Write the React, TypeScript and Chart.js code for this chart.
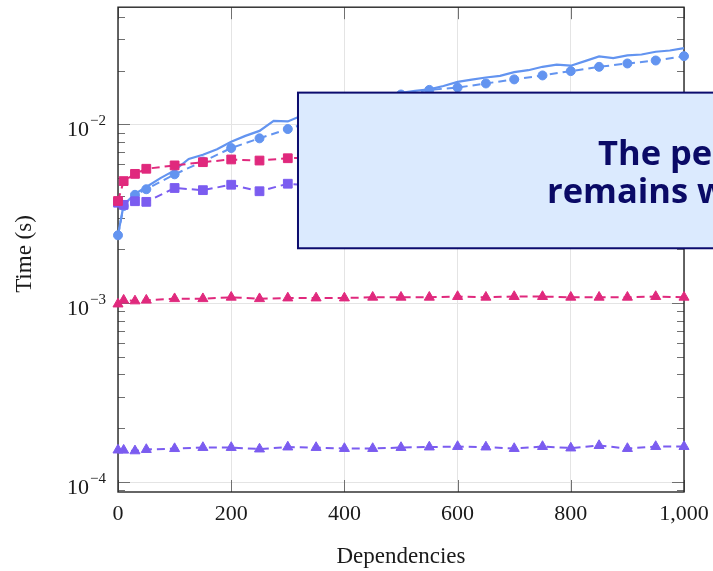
import React, { useEffect, useRef } from 'react';
import { Chart, registerables } from 'chart.js';

Chart.register(...registerables);

// ---------- data ----------
const X_DASHED = [0, 10, 30, 50, 100, 150, 200, 250, 300, 350, 400, 450, 500, 550, 600, 650, 700, 750, 800, 850, 900, 950, 1000];
const X_SOLID = [0, 10, 30, 50, 75, 100, 125, 150, 175, 200, 225, 250, 275, 300, 325, 350, 375, 400, 425, 450, 475, 500, 525, 550, 575, 600, 625, 650, 675, 700, 725, 750, 775, 800, 825, 850, 875, 900, 925, 950, 975, 1000];

const BLUE_SOLID = [0.00241, 0.00355, 0.00409, 0.00447, 0.00501, 0.00553, 0.00641, 0.00677, 0.00726, 0.00800, 0.00863, 0.00920, 0.01046, 0.01039, 0.01122, 0.0117, 0.0123, 0.0128, 0.0134, 0.0139, 0.0146, 0.0150, 0.0154, 0.0157, 0.0164, 0.0173, 0.0178, 0.0183, 0.0187, 0.0196, 0.0201, 0.0210, 0.0216, 0.0213, 0.0226, 0.0240, 0.0235, 0.0243, 0.0246, 0.0255, 0.0259, 0.0267];
const BLUE_CIRCLES = [0.00240, 0.00350, 0.00404, 0.00434, 0.00526, 0.00620, 0.00738, 0.00836, 0.00942, 0.0106, 0.0118, 0.0131, 0.0147, 0.01560, 0.01607, 0.01695, 0.01786, 0.01879, 0.01987, 0.02099, 0.02192, 0.02277, 0.02409];
const MAGENTA_SQUARES = [0.00373, 0.00482, 0.00529, 0.00565, 0.00590, 0.00615, 0.00637, 0.00628, 0.00647, 0.00652, 0.00660, 0.00655, 0.00668, 0.00672, 0.00665, 0.00680, 0.00684, 0.00678, 0.00690, 0.00695, 0.00688, 0.00700, 0.00705];
const PURPLE_SQUARES = [0.00365, 0.00355, 0.00372, 0.00369, 0.00441, 0.00429, 0.00460, 0.00423, 0.00466, 0.00452, 0.00470, 0.00458, 0.00475, 0.00468, 0.00480, 0.00472, 0.00485, 0.00478, 0.00490, 0.00483, 0.00495, 0.00488, 0.00500];
const MAGENTA_TRIANGLES = [0.00099, 0.00104, 0.00103, 0.00104, 0.00106, 0.00106, 0.00108, 0.00106, 0.00107, 0.00107, 0.00107, 0.00108, 0.00108, 0.00108, 0.00109, 0.00108, 0.00109, 0.00109, 0.00108, 0.00108, 0.00108, 0.00109, 0.00108];
const PURPLE_TRIANGLES = [0.000151, 0.0001507, 0.0001494, 0.000152, 0.0001538, 0.000156, 0.000156, 0.000153, 0.000157, 0.000156, 0.000154, 0.000154, 0.000156, 0.000157, 0.000158, 0.000157, 0.000154, 0.000158, 0.000155, 0.000160, 0.000154, 0.000158, 0.000158];

const X_TICKS = [0, 200, 400, 600, 800, 1000];
const X_TICK_LABELS = ['0', '200', '400', '600', '800', '1,000'];
const Y_MAJOR_EXPONENTS = [-4, -3, -2];
const X_TITLE = 'Dependencies';
const Y_TITLE = 'Time (s)';
const NOTE_LINES = ['The performance', 'remains within'];

// ---------- layout / style ----------
const W = 713;
const H = 571;
const X_MIN = 0;
const X_MAX = 1000;
const Y_MIN = 8.8e-5;
const Y_MAX = 0.04524;
const NOTE_BOX = { x0: 318, x1: 1400, yTop: 0.01506, yBottom: 0.00203 };

const BLUE = '#6394f0';
const MAGENTA = '#e0297d';
const PURPLE = '#7b5cf0';
const NAVY = '#0a0a66';
const SERIF = '"Liberation Serif", "DejaVu Serif", serif';

const pts = (xs: number[], ys: number[]) => xs.map((x, i) => ({ x, y: ys[i] }));

const decorPlugin = {
  id: 'decor',
  beforeDatasetsDraw(chart: any) {
    const { ctx, chartArea: a } = chart;
    const xs = chart.scales.x;
    const ys = chart.scales.y;
    ctx.save();
    const seg = (x1: number, y1: number, x2: number, y2: number) => {
      ctx.beginPath();
      ctx.moveTo(x1, y1);
      ctx.lineTo(x2, y2);
      ctx.stroke();
    };
    ctx.lineWidth = 1;
    ctx.strokeStyle = '#707070';
    for (let e = -5; e <= 0; e++) {
      for (let m = 1; m <= 9; m++) {
        const v = m * Math.pow(10, e);
        if (v < ys.min || v > ys.max) continue;
        const py = Math.round(ys.getPixelForValue(v)) + 0.5;
        const len = m === 1 ? 12 : 7;
        seg(a.left, py, a.left + len, py);
        seg(a.right - len, py, a.right, py);
      }
    }
    X_TICKS.forEach((v) => {
      const px = Math.round(xs.getPixelForValue(v)) + 0.5;
      seg(px, a.top, px, a.top + 12);
      seg(px, a.bottom - 12, px, a.bottom);
    });
    ctx.strokeStyle = '#262626';
    ctx.lineWidth = 1.4;
    ctx.strokeRect(a.left, a.top, a.right - a.left, a.bottom - a.top);

    // tick labels
    ctx.fillStyle = '#1a1a1a';
    ctx.textBaseline = 'alphabetic';
    ctx.font = `22px ${SERIF}`;
    ctx.textAlign = 'center';
    X_TICKS.forEach((v, i) => {
      ctx.fillText(X_TICK_LABELS[i], xs.getPixelForValue(v), a.bottom + 28);
    });
    Y_MAJOR_EXPONENTS.forEach((e) => {
      const py = ys.getPixelForValue(Math.pow(10, e));
      const sup = '\u2212' + String(-e);
      ctx.textAlign = 'right';
      ctx.font = `15px ${SERIF}`;
      const rx = a.left - 12;
      ctx.fillText(sup, rx, py + 1);
      const w = ctx.measureText(sup).width;
      ctx.font = `22px ${SERIF}`;
      ctx.fillText('10', rx - w - 1, py + 12);
    });

    // axis titles
    ctx.font = `23px ${SERIF}`;
    ctx.textAlign = 'center';
    ctx.fillText(X_TITLE, (a.left + a.right) / 2, 563);
    ctx.save();
    ctx.translate(31, 254);
    ctx.rotate(-Math.PI / 2);
    ctx.fillText(Y_TITLE, 0, 0);
    ctx.restore();
    ctx.restore();
  },
  afterDatasetsDraw(chart: any) {
    const { ctx } = chart;
    const xs = chart.scales.x;
    const ys = chart.scales.y;
    const l = xs.getPixelForValue(NOTE_BOX.x0);
    const r = xs.getPixelForValue(NOTE_BOX.x1);
    const t = ys.getPixelForValue(NOTE_BOX.yTop);
    const b = ys.getPixelForValue(NOTE_BOX.yBottom);
    ctx.save();
    ctx.fillStyle = '#dbeafe';
    ctx.fillRect(l, t, r - l, b - t);
    ctx.strokeStyle = '#0c0c6e';
    ctx.lineWidth = 2;
    ctx.strokeRect(l, t, r - l, b - t);
    ctx.fillStyle = NAVY;
    ctx.font = 'bold 34.5px "Open Sans", "Noto Sans", sans-serif';
    ctx.textAlign = 'left';
    ctx.textBaseline = 'alphabetic';
    ctx.fillText(NOTE_LINES[0], l + 300, t + 72);
    ctx.fillText(NOTE_LINES[1], l + 249, t + 110);
    ctx.restore();
  },
};

export default function App() {
  const ref = useRef<HTMLCanvasElement | null>(null);
  useEffect(() => {
    document.body.style.margin = '0';
    const canvas = ref.current;
    if (!canvas) return;
    const dashed = (label: string, color: string, data: number[], style: string, radius: number) => ({
      label,
      data: pts(X_DASHED, data),
      borderColor: color,
      backgroundColor: color,
      borderWidth: 2,
      borderDash: [8, 5],
      pointStyle: style,
      pointRadius: radius,
      pointBorderWidth: 1,
      pointBorderColor: color,
      pointBackgroundColor: color,
      tension: 0,
      clip: false as any,
    });
    const chart = new Chart(canvas, {
      type: 'line',
      data: {
        datasets: [
          dashed('magenta squares', MAGENTA, MAGENTA_SQUARES, 'rect', 6.2),
          dashed('purple squares', PURPLE, PURPLE_SQUARES, 'rect', 6.2),
          dashed('blue circles', BLUE, BLUE_CIRCLES, 'circle', 4.5),
          {
            label: 'blue solid',
            data: pts(X_SOLID, BLUE_SOLID),
            borderColor: BLUE,
            backgroundColor: BLUE,
            borderWidth: 2.2,
            pointRadius: 0,
            tension: 0,
            clip: false as any,
          },
          dashed('magenta triangles', MAGENTA, MAGENTA_TRIANGLES, 'triangle', 5.8),
          dashed('purple triangles', PURPLE, PURPLE_TRIANGLES, 'triangle', 5.8),
        ],
      },
      options: {
        animation: false,
        responsive: false,
        devicePixelRatio: 1,
        events: [],
        layout: { padding: { top: 4, right: 29, bottom: 0, left: 0 } },
        plugins: { legend: { display: false }, tooltip: { enabled: false } },
        scales: {
          x: {
            type: 'linear',
            min: X_MIN,
            max: X_MAX,
            ticks: { display: false, stepSize: 200 },
            grid: { color: '#e4e4e4', drawTicks: false, lineWidth: 1 },
            border: { display: false },
            afterFit: (s: any) => { s.height = 79; },
          },
          y: {
            type: 'logarithmic',
            min: Y_MIN,
            max: Y_MAX,
            ticks: { display: false },
            grid: {
              drawTicks: false,
              color: (c: any) => {
                const v = c.tick ? c.tick.value : 0;
                if (!v) return 'transparent';
                const l = Math.log10(v);
                return Math.abs(l - Math.round(l)) < 1e-9 ? '#e4e4e4' : 'transparent';
              },
            },
            border: { display: false },
            afterFit: (s: any) => { s.width = 118; },
          },
        },
      },
      plugins: [decorPlugin],
    } as any);
    return () => chart.destroy();
  }, []);
  return <canvas ref={ref} width={W} height={H} style={{ display: 'block', width: W, height: H }} />;
}
